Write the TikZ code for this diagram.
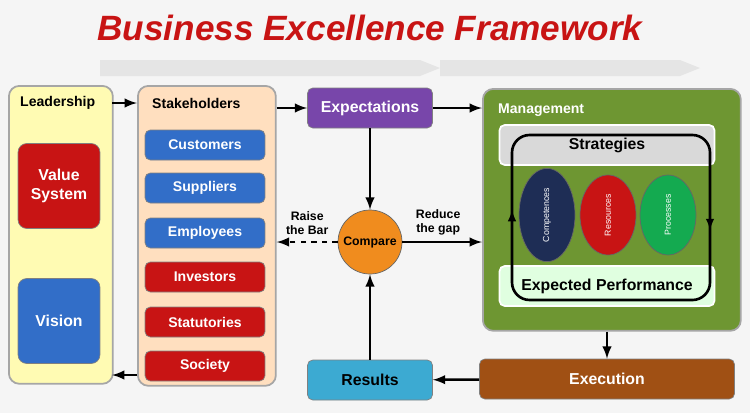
\documentclass[tikz,border=0pt]{standalone}
\usepackage{fontspec}
\setmainfont{Liberation Sans}
\usetikzlibrary{arrows,positioning,shapes.geometric}
\definecolor{bred}{RGB}{200,20,20}
\definecolor{bblue}{RGB}{50,110,200}
\definecolor{bpurple}{RGB}{120,70,170}
\definecolor{bgreen}{RGB}{110,150,50}
\definecolor{bbrown}{RGB}{160,80,20}
\definecolor{bcyan}{RGB}{60,170,210}
\definecolor{borange}{RGB}{240,140,30}
\definecolor{bnavy}{RGB}{30,45,85}
\definecolor{bleaf}{RGB}{20,170,80}
\tikzset{
  panel/.style={draw=gray!70, rounded corners=6pt, line width=1pt, anchor=north west},
  btn/.style={rounded corners=3pt, draw=black!50, text=white, font=\bfseries\footnotesize, minimum width=2.4cm, minimum height=0.6cm},
  bigbtn/.style={rounded corners=5pt, draw=black!50, text=white, font=\bfseries\small, minimum width=1.64cm, minimum height=1.7cm, align=center},
  flowbox/.style={rounded corners=3pt, draw=black!50, font=\bfseries\small, minimum width=2.5cm, minimum height=0.8cm},
  oval/.style={ellipse, draw=black!60, minimum width=1.6cm, minimum height=1.12cm, font=\tiny, text=white},
  flow/.style={-latex, line width=1.4pt},
  note/.style={font=\bfseries\scriptsize, align=center}
}
\begin{document}
\begin{tikzpicture}[x=0.02cm,y=-0.02cm]
\useasboundingbox (0,0) rectangle (750,413);
\fill[gray!8] (0,0) rectangle (750,413);
% faint arrows in the back
\fill[gray!20] (100,60) -- (420,60) -- (440,68) -- (420,76) -- (100,76) -- cycle;
\fill[gray!20] (440,60) -- (680,60) -- (700,68) -- (680,76) -- (440,76) -- cycle;
\node (title) at (370,28) {\color{bred}\bfseries\itshape\fontsize{20}{24}\selectfont Business Excellence Framework};

% left panels
\node[panel, fill=yellow!30, minimum width=2.08cm, minimum height=5.96cm] (lead) at (8,85) {};
\node[font=\bfseries\footnotesize, anchor=west] (leadlbl) at (14,103) {Leadership};
\node[bigbtn, fill=bred] (value) at (59,186) {Value\\System};
\node[bigbtn, fill=bblue] (vision) at (59,321) {Vision};

\node[panel, fill=orange!25, minimum width=2.76cm, minimum height=6cm] (stake) at (137,85) {};
\node[font=\bfseries\footnotesize, anchor=west] (stakelbl) at (146,103) {Stakeholders};
\node[btn, fill=bblue] (cust) at (205,145) {Customers};
\node[btn, fill=bblue] (supp) at (205,188) {Suppliers};
\node[btn, fill=bblue] (empl) at (205,233) {Employees};
\node[btn, fill=bred] (inv) at (205,277) {Investors};
\node[btn, fill=bred] (stat) at (205,322) {Statutories};
\node[btn, fill=bred] (soc) at (205,366) {Society};

% middle
\node[flowbox, fill=bpurple, text=white] (expect) at (370,108) {Expectations};
\node[circle, draw=black!60, fill=borange, minimum size=1.28cm, inner sep=0pt, font=\bfseries\scriptsize] (cmp) at (370,242) {Compare};
\node[flowbox, fill=bcyan] (res) at (370,380) {Results};

% management
\node[panel, fill=bgreen, minimum width=5.16cm, minimum height=4.84cm] (mgmt) at (482,88) {};
\node[font=\bfseries\footnotesize, text=white, anchor=west] (mgmtlbl) at (492,110) {Management};
\node[rounded corners=3pt, fill=gray!30, draw=white, line width=1pt, minimum width=4.3cm, minimum height=0.8cm, font=\bfseries\small] (strat) at (607,145) {Strategies};
\node[rounded corners=3pt, fill=green!12, draw=white, line width=1pt, minimum width=4.3cm, minimum height=0.8cm, font=\bfseries\small] (perf) at (607,286) {Expected Performance};
\draw[rounded corners=10pt, line width=1.5pt] (512,135) rectangle (710,300);
\draw[-latex, line width=1.2pt] (512,230) -- (512,210);
\draw[-latex, line width=1.2pt] (710,210) -- (710,230);
\node[oval, fill=bnavy, rotate=90] (comp) at (547,215) {Competences};
\node[oval, fill=bred, rotate=90] (resrc) at (608,215) {Resources};
\node[oval, fill=bleaf, rotate=90] (proc) at (668,215) {Processes};
\node[flowbox, fill=bbrown, text=white, minimum width=5.1cm] (exec) at (607,379) {Execution};

% connectors
\coordinate (leadtop) at (112,103);
\coordinate (staketop) at (137,103);
\coordinate (leadbot) at (112,375);
\coordinate (stakebot) at (137,375);
\draw[flow] (leadtop) -- (staketop);
\draw[flow] (stakebot) -- (leadbot);
\draw[flow] (stake.east |- expect) -- (expect);
\draw[flow] (expect) -- (mgmt.west |- expect);
\draw[flow] (expect) -- (cmp);
\draw[flow] (res) -- (cmp);
\draw[flow] (cmp) -- (mgmt.west |- cmp) node[note, pos=0.45, above] {Reduce\\the gap};
\draw[flow, dashed] (cmp) -- (stake.east |- cmp) node[note, pos=0.5, above] {Raise\\the Bar};
\draw[flow] (mgmt.south -| exec.north) -- (exec.north);
\draw[flow] (exec) -- (res);
\end{tikzpicture}
\end{document}
